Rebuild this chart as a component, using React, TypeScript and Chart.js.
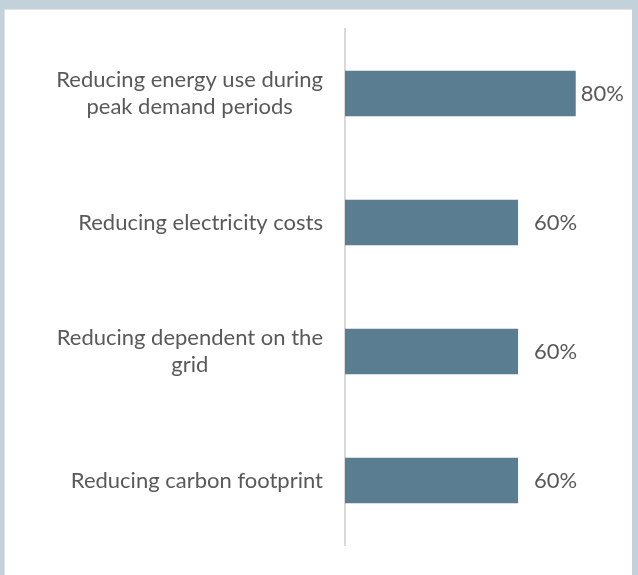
import React, { useEffect, useRef } from "react";
import { Chart, registerables } from "chart.js";

Chart.register(...registerables);

const categories: string[][] = [
  ["Reducing energy use during", "peak demand periods"],
  ["Reducing electricity costs"],
  ["Reducing dependent on the", "grid"],
  ["Reducing carbon footprint"],
];
const shares: number[] = [80, 60, 60, 60];

const TEXT = "#595959";
const BAR = "#5b7d91";
const FONT = "Lato";
const FONT_SIZE = 22;
const LINE_H = 27;

// Category labels: each block right-aligned against the axis, lines centred within the block
const categoryLabels = {
  id: "categoryLabels",
  afterDraw(chart: any) {
    const ctx = chart.ctx;
    const y = chart.scales.y;
    const right = chart.chartArea.left - 22;
    ctx.save();
    ctx.font = `${FONT_SIZE}px ${FONT}`;
    ctx.fillStyle = TEXT;
    ctx.textAlign = "center";
    ctx.textBaseline = "middle";
    categories.forEach((lines, i) => {
      const cy = y.getPixelForTick(i);
      const w = Math.max(...lines.map((l) => ctx.measureText(l).width));
      const cx = right - w / 2;
      const top = cy - ((lines.length - 1) * LINE_H) / 2;
      lines.forEach((l, j) => ctx.fillText(l, cx, top + j * LINE_H));
    });
    ctx.restore();
  },
};

// Value labels just past the end of each bar, kept inside the canvas
const valueLabels = {
  id: "valueLabels",
  afterDatasetsDraw(chart: any) {
    const ctx = chart.ctx;
    const meta = chart.getDatasetMeta(0);
    const ds = chart.data.datasets[0];
    ctx.save();
    ctx.font = `${FONT_SIZE}px ${FONT}`;
    ctx.fillStyle = TEXT;
    ctx.textAlign = "left";
    ctx.textBaseline = "middle";
    meta.data.forEach((bar: any, i: number) => {
      const text = `${ds.data[i]}%`;
      const w = ctx.measureText(text).width;
      let x = bar.x + 16;
      const limit = chart.width - 8;
      if (x + w > limit) x = limit - w;
      ctx.fillText(text, x, bar.y);
    });
    ctx.restore();
  },
};

export default function App() {
  const ref = useRef<HTMLCanvasElement | null>(null);

  useEffect(() => {
    document.body.style.margin = "0";
    if (!ref.current) return;
    const chart = new Chart(ref.current, {
      type: "bar",
      data: {
        labels: categories.map((c) => c.join(" ")),
        datasets: [
          {
            data: shares,
            backgroundColor: BAR,
            borderWidth: 0,
            barPercentage: 0.353,
            categoryPercentage: 1,
          },
        ],
      },
      options: {
        indexAxis: "y",
        animation: false,
        responsive: false,
        maintainAspectRatio: false,
        layout: { padding: { top: 19, bottom: 30, right: 13, left: 0 } },
        plugins: {
          legend: { display: false },
          tooltip: { enabled: false },
        },
        scales: {
          x: {
            display: false,
            min: 0,
            max: 95,
          },
          y: {
            display: true,
            grid: { display: false, drawTicks: false },
            ticks: { display: false },
            border: { display: true, color: "#d9d9d9", width: 2 },
            afterFit(scale: any) {
              scale.width = 340;
            },
          },
        },
      },
      plugins: [categoryLabels, valueLabels],
    });
    return () => chart.destroy();
  }, []);

  return (
    <div
      style={{
        position: "relative",
        width: 638,
        height: 575,
        background: "#c3d2da",
        overflow: "hidden",
      }}
    >
      <div
        style={{
          position: "absolute",
          left: 4,
          top: 9,
          width: 628,
          height: 566,
          background: "#ffffff",
          borderLeft: "1px solid #e2e2e2",
          borderTop: "1px solid #e2e2e2",
          boxSizing: "border-box",
        }}
      >
        <canvas ref={ref} width={627} height={565} style={{ display: "block" }} />
      </div>
    </div>
  );
}
